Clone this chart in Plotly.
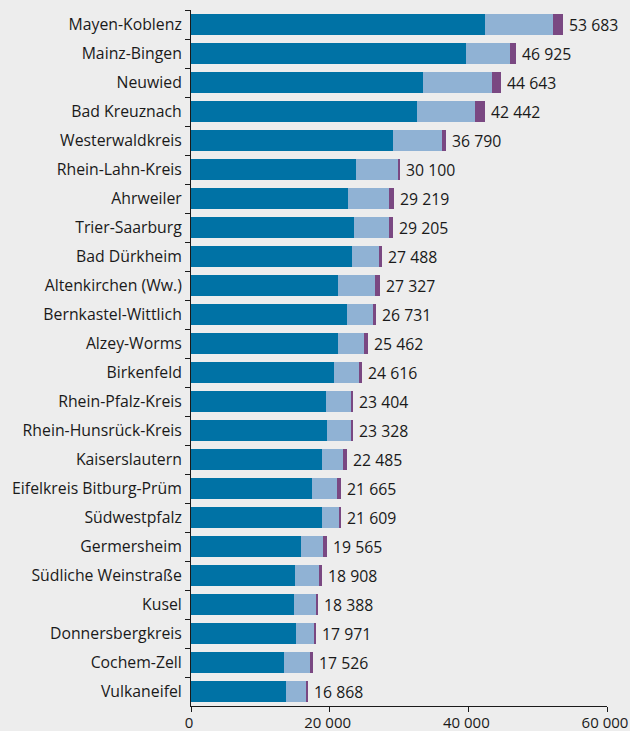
import plotly.graph_objects as go

categories = ["Mayen-Koblenz", "Mainz-Bingen", "Neuwied", "Bad Kreuznach", "Westerwaldkreis",
              "Rhein-Lahn-Kreis", "Ahrweiler", "Trier-Saarburg", "Bad Dürkheim", "Altenkirchen (Ww.)",
              "Bernkastel-Wittlich", "Alzey-Worms", "Birkenfeld", "Rhein-Pfalz-Kreis",
              "Rhein-Hunsrück-Kreis", "Kaiserslautern", "Eifelkreis Bitburg-Prüm", "Südwestpfalz",
              "Germersheim", "Südliche Weinstraße", "Kusel", "Donnersbergkreis", "Cochem-Zell", "Vulkaneifel"]

totals = [53683, 46925, 44643, 42442, 36790, 30100, 29219, 29205, 27488, 27327, 26731, 25462,
          24616, 23404, 23328, 22485, 21665, 21609, 19565, 18908, 18388, 17971, 17526, 16868]

series_a = [42360, 39620, 33420, 32550, 29090, 23750, 22600, 23460, 23170, 21160, 22450, 21160,
            20580, 19420, 19570, 18850, 17400, 18850, 15820, 14950, 14810, 15100, 13370, 13650]
series_b = [9810, 6340, 9950, 8370, 7070, 6060, 5910, 5050, 4040, 5330, 3750, 3740,
            3600, 3610, 3460, 3030, 3610, 2590, 3170, 3460, 3320, 2740, 3890, 3030]
series_c = [t - a - b for t, a, b in zip(totals, series_a, series_b)]

x_ticks = [0, 20000, 40000, 60000]

colors = ["#0072a5", "#90b2d4", "#7a4882"]

FS = 15.8

fig = go.Figure()
for vals, col in zip([series_a, series_b, series_c], colors):
    fig.add_trace(go.Bar(x=vals, y=categories, orientation="h", marker=dict(color=col, line=dict(width=0)),
                         width=0.75, hoverinfo="skip", showlegend=False))

for cat, tot in zip(categories, totals):
    fig.add_annotation(x=tot, y=cat, text=f"{tot:,}".replace(",", " "), showarrow=False,
                       xanchor="left", xshift=4, font=dict(size=FS, color="#1a1a1a"))

fig.update_layout(
    barmode="stack",
    width=630, height=731,
    margin=dict(l=191, r=23, t=10, b=25),
    paper_bgcolor="#ededed", plot_bgcolor="#ededed",
    font=dict(family="Open Sans", size=FS, color="#1a1a1a"),
    separators=", ",
)
fig.update_xaxes(range=[0, 60000], tickvals=x_ticks, tickformat=",d", showgrid=False, zeroline=False,
                 showline=True, linecolor="#1a1a1a", linewidth=1, automargin=False,
                 ticks="outside", ticklen=5, tickcolor="#1a1a1a", tickfont=dict(size=15),
                 ticklabelstandoff=-2, ticklabelshift=-2, ticklabeloverflow="allow")
fig.update_yaxes(categoryorder="array", categoryarray=categories, autorange="reversed",
                 showgrid=False, zeroline=False, showline=True, linecolor="#1a1a1a", linewidth=1,
                 ticks="outside", ticklen=5, tickcolor="#1a1a1a", tickson="boundaries",
                 tickfont=dict(size=FS), automargin=False, ticklabelstandoff=5)

fig.write_html("out.html", config={"displayModeBar": False},
               post_script="document.body.style.margin='0';document.body.style.padding='0';")
